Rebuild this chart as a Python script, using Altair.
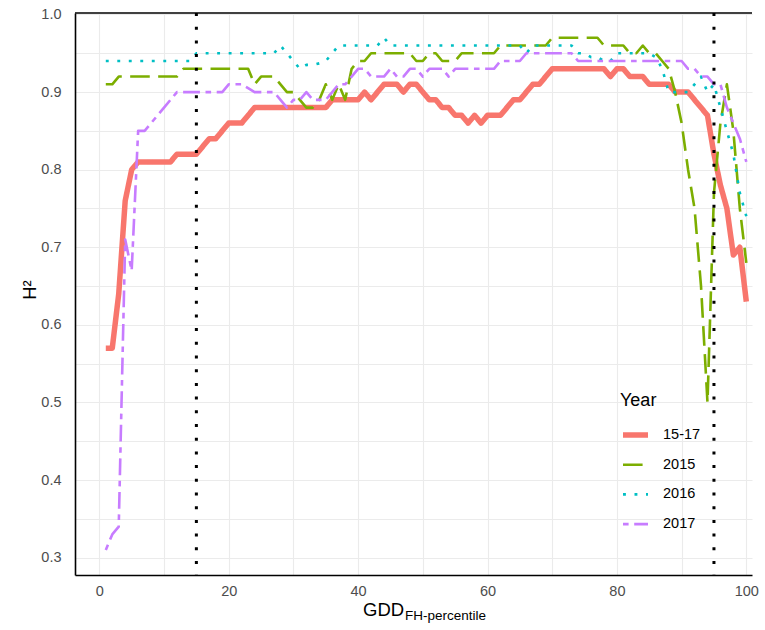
import altair as alt
import pandas as pd

# Percentile of growing degree days (x) and heritability per year group (y)
pct = list(range(1, 101))
years = ["15-17", "2015", "2016", "2017"]

h2_1517 = [0.57, 0.57, 0.64, 0.76, 0.80, 0.81, 0.81, 0.81, 0.81, 0.81,
           0.81, 0.82, 0.82, 0.82, 0.82, 0.83, 0.84, 0.84, 0.85, 0.86,
           0.86, 0.86, 0.87, 0.88, 0.88, 0.88, 0.88, 0.88, 0.88, 0.88,
           0.88, 0.88, 0.88, 0.88, 0.88, 0.89, 0.89, 0.89, 0.89, 0.89,
           0.90, 0.89, 0.90, 0.91, 0.91, 0.91, 0.90, 0.91, 0.91, 0.90,
           0.89, 0.89, 0.88, 0.88, 0.87, 0.87, 0.86, 0.87, 0.86, 0.87,
           0.87, 0.87, 0.88, 0.89, 0.89, 0.90, 0.91, 0.91, 0.92, 0.93,
           0.93, 0.93, 0.93, 0.93, 0.93, 0.93, 0.93, 0.93, 0.92, 0.93,
           0.93, 0.92, 0.92, 0.92, 0.91, 0.91, 0.91, 0.91, 0.90, 0.90,
           0.90, 0.89, 0.88, 0.87, 0.82, 0.78, 0.75, 0.69, 0.70, 0.63]

h2_2015 = [0.91, 0.91, 0.92, 0.92, 0.92, 0.92, 0.92, 0.92, 0.92, 0.92,
           0.92, 0.92, 0.93, 0.93, 0.93, 0.93, 0.93, 0.93, 0.93, 0.93,
           0.93, 0.93, 0.93, 0.91, 0.92, 0.92, 0.92, 0.91, 0.90, 0.90,
           0.89, 0.88, 0.88, 0.89, 0.91, 0.89, 0.91, 0.89, 0.93, 0.94,
           0.94, 0.95, 0.95, 0.95, 0.95, 0.95, 0.95, 0.95, 0.94, 0.94,
           0.95, 0.95, 0.94, 0.94, 0.94, 0.95, 0.95, 0.95, 0.95, 0.95,
           0.95, 0.96, 0.96, 0.96, 0.96, 0.96, 0.96, 0.96, 0.96, 0.97,
           0.97, 0.97, 0.97, 0.97, 0.97, 0.97, 0.97, 0.96, 0.96, 0.96,
           0.96, 0.95, 0.95, 0.96, 0.95, 0.95, 0.94, 0.93, 0.90, 0.86,
           0.80, 0.75, 0.65, 0.50, 0.77, 0.86, 0.91, 0.85, 0.75, 0.68]

h2_2016 = [0.94, 0.94, 0.94, 0.94, 0.94, 0.94, 0.94, 0.94, 0.94, 0.94,
           0.94, 0.94, 0.94, 0.94, 0.95, 0.95, 0.95, 0.95, 0.95, 0.95,
           0.95, 0.95, 0.95, 0.95, 0.95, 0.95, 0.95, 0.96, 0.95, 0.94,
           0.93, 0.935, 0.935, 0.937, 0.94, 0.95, 0.96, 0.96, 0.96, 0.96,
           0.96, 0.96, 0.96, 0.97, 0.96, 0.96, 0.96, 0.96, 0.96, 0.96,
           0.96, 0.96, 0.96, 0.96, 0.96, 0.96, 0.96, 0.96, 0.96, 0.96,
           0.96, 0.96, 0.96, 0.96, 0.96, 0.95, 0.96, 0.96, 0.96, 0.96,
           0.96, 0.96, 0.96, 0.95, 0.95, 0.945, 0.945, 0.94, 0.94, 0.95,
           0.95, 0.95, 0.95, 0.95, 0.95, 0.945, 0.93, 0.90, 0.90, 0.90,
           0.90, 0.91, 0.92, 0.90, 0.91, 0.88, 0.85, 0.82, 0.77, 0.74]

h2_2017 = [0.31, 0.33, 0.34, 0.71, 0.67, 0.85, 0.85, 0.86, 0.87, 0.88,
           0.89, 0.90, 0.90, 0.90, 0.90, 0.90, 0.90, 0.90, 0.90, 0.91,
           0.91, 0.91, 0.905, 0.90, 0.90, 0.90, 0.90, 0.89, 0.88, 0.89,
           0.89, 0.90, 0.89, 0.89, 0.89, 0.90, 0.91, 0.91, 0.92, 0.93,
           0.93, 0.92, 0.92, 0.92, 0.93, 0.92, 0.92, 0.93, 0.93, 0.92,
           0.93, 0.93, 0.93, 0.92, 0.93, 0.93, 0.93, 0.93, 0.93, 0.93,
           0.93, 0.94, 0.94, 0.94, 0.94, 0.95, 0.95, 0.95, 0.95, 0.95,
           0.95, 0.95, 0.95, 0.94, 0.94, 0.94, 0.94, 0.94, 0.94, 0.94,
           0.94, 0.94, 0.94, 0.94, 0.94, 0.94, 0.94, 0.94, 0.94, 0.94,
           0.93, 0.93, 0.92, 0.92, 0.91, 0.91, 0.88, 0.86, 0.84, 0.81]

# Percentile cut-offs marked with dotted vertical lines
cutoffs = [15, 95]

x_ticks = [0, 5, 10, 15, 20, 25, 30, 35, 40, 45, 50, 55, 60, 65, 70, 75, 80, 85, 90, 95, 100]
y_ticks = [0.3, 0.35, 0.4, 0.45, 0.5, 0.55, 0.6, 0.65, 0.7, 0.75, 0.8, 0.85, 0.9, 0.95, 1.0]

colors = ["#F8766D", "#7CAE00", "#00BFC4", "#C77CFF"]
dashes = [[1, 0], [19.6, 8.4], [2.9, 8.6], [5.6, 5.6, 16.8, 5.6]]
widths = [5.5, 2.6, 2.6, 2.6]

rows = []
for year, vals in zip(years, [h2_1517, h2_2015, h2_2016, h2_2017]):
    for p, v in zip(pct, vals):
        rows.append({"pct": p, "h2": v, "year": year})
df = pd.DataFrame(rows)

W, H = 677, 562
FONT = "Liberation Sans"
xscale = alt.Scale(domain=[-3.76, 100.88], nice=False, zero=False)
yscale = alt.Scale(domain=[0.2777, 1.0019], nice=False, zero=False)

lines = alt.Chart(df).mark_line(strokeCap="butt", strokeJoin="round").encode(
    x=alt.X("pct:Q", scale=xscale, title=None,
            axis=alt.Axis(values=x_ticks,
                          labelExpr="datum.value % 20 == 0 ? datum.label : ''",
                          grid=True, gridColor="#ebebeb", gridWidth=1.1,
                          domainColor="black", domainWidth=1.6, ticks=False,
                          labelFontSize=14.5, labelColor="#4d4d4d",
                          labelPadding=9, labelFont=FONT)),
    y=alt.Y("h2:Q", scale=yscale, title=None,
            axis=alt.Axis(values=y_ticks, format=".1f",
                          labelExpr="abs(datum.value * 10 - round(datum.value * 10)) < 0.001 ? datum.label : ''",
                          grid=True, gridColor="#ebebeb", gridWidth=1.1,
                          domainColor="black", domainWidth=1.6, ticks=False,
                          labelFontSize=14.5, labelColor="#4d4d4d",
                          labelPadding=14, labelFont=FONT)),
    color=alt.Color("year:N", title="Year",
                    scale=alt.Scale(domain=years, range=colors)),
    strokeDash=alt.StrokeDash("year:N", title="Year",
                              scale=alt.Scale(domain=years, range=dashes)),
    strokeWidth=alt.StrokeWidth("year:N", title="Year",
                                scale=alt.Scale(type="ordinal", domain=years, range=widths)),
)

vlines = alt.Chart(pd.DataFrame({"cut": cutoffs})).mark_rule(
    color="black", strokeWidth=3, strokeDash=[3, 10.7], strokeCap="butt"
).encode(x=alt.X("cut:Q", scale=xscale, title=None))

one = pd.DataFrame({"k": [0]})
top_border = alt.Chart(one).mark_rule(color="black", strokeWidth=1.6).encode(
    x=alt.value(0), x2=alt.value(W), y=alt.value(0)
)

x_title_main = alt.Chart(one).mark_text(
    font=FONT, fontSize=18.5, align="left", baseline="alphabetic", color="black"
).encode(x=alt.value(288), y=alt.value(603), text=alt.value("GDD"))

x_title_sub = alt.Chart(one).mark_text(
    font=FONT, fontSize=13.5, align="left", baseline="alphabetic", color="black"
).encode(x=alt.value(330), y=alt.value(607), text=alt.value("FH-percentile"))

y_title = alt.Chart(one).mark_text(
    font=FONT, fontSize=18.5, align="center", baseline="middle", angle=270, color="black"
).encode(x=alt.value(-45), y=alt.value(277), text=alt.value("H²"))

chart = alt.layer(
    lines, vlines, top_border, x_title_main, x_title_sub, y_title
).properties(
    width=W, height=H,
    autosize=alt.AutoSizeParams(type="none"),
    padding={"left": 75, "top": 13, "right": 13, "bottom": 55},
    background="white",
).configure_view(
    stroke=None
).configure_legend(
    orient="none", legendX=545, legendY=379, padding=0,
    symbolType="stroke", symbolSize=625,
    titleFont=FONT, titleFontSize=18, titleFontWeight="normal", titleColor="black",
    titlePadding=12,
    labelFont=FONT, labelFontSize=14.5, labelColor="black",
    labelOffset=12, rowPadding=3.7, clipHeight=26,
)

chart.save("out.html", embed_options={"renderer": "svg", "actions": False})
